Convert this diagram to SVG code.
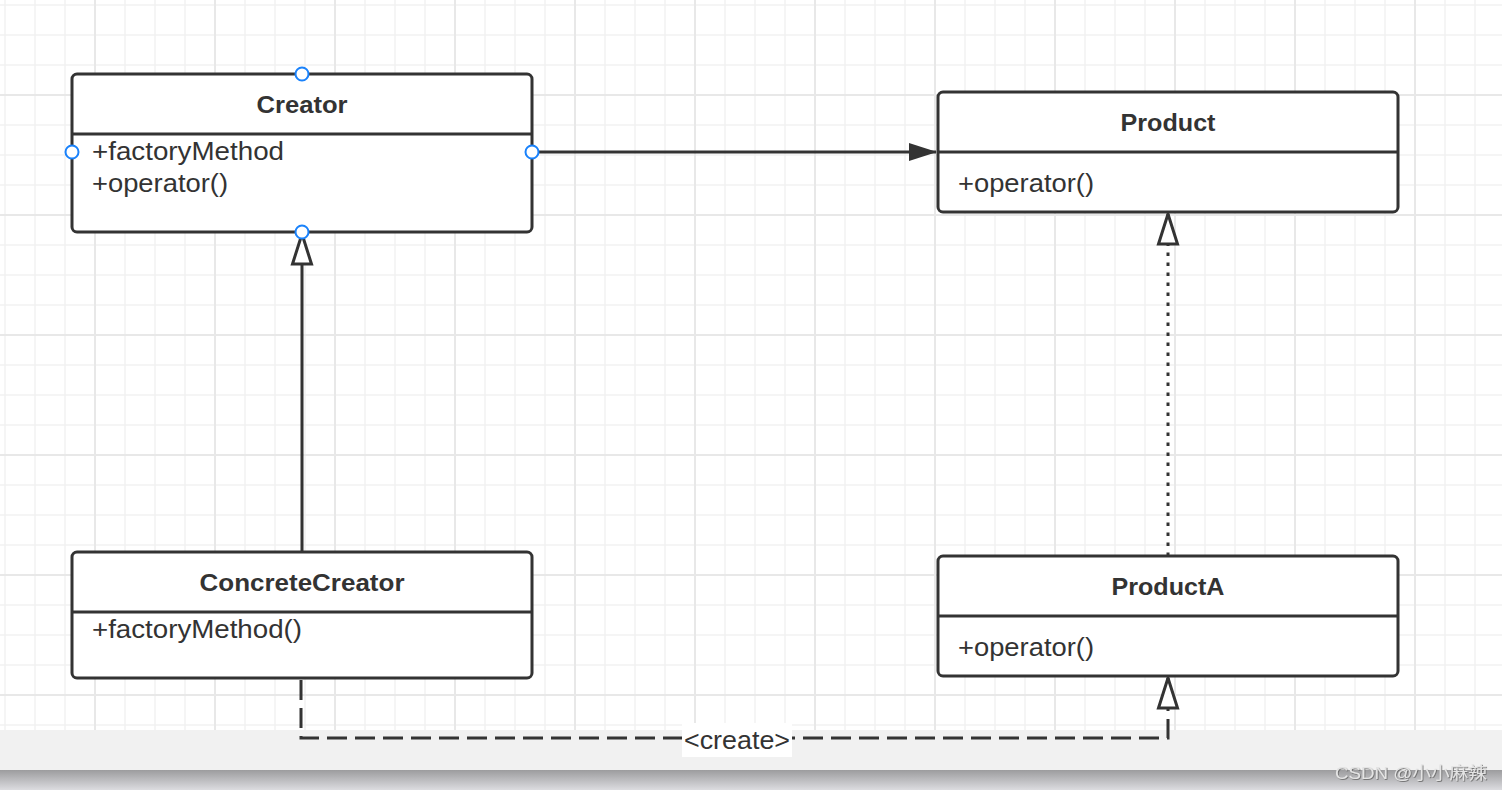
<svg xmlns="http://www.w3.org/2000/svg" width="1502" height="790" viewBox="0 0 1502 790">
  <defs>
    <pattern id="grid" patternUnits="userSpaceOnUse" x="-10" y="-10" width="120" height="120">
      <path d="M15 0V120M45 0V120M75 0V120M0 15H120M0 45H120M0 75H120" stroke="#f2f2f2" stroke-width="1.5" fill="none"/>
      <path d="M105 0V120M0 105H120" stroke="#e8e8e8" stroke-width="2" fill="none"/>
    </pattern>
    <linearGradient id="bar" x1="0" y1="0" x2="0" y2="1">
      <stop offset="0" stop-color="#9c9c9e"/>
      <stop offset="1" stop-color="#dcdce0"/>
    </linearGradient>
    <filter id="emb" x="-5%" y="-20%" width="110%" height="140%">
      <feDropShadow dx="0.8" dy="0.8" stdDeviation="0.3" flood-color="#666"/>
    </filter>
    <marker id="filled" viewBox="0 0 28 18" refX="27" refY="9" markerWidth="28" markerHeight="18" markerUnits="userSpaceOnUse" orient="auto">
      <path d="M0 0L28 9L0 18Z" fill="#333"/>
    </marker>
    <marker id="hollow" viewBox="0 0 34 24" refX="32" refY="12" markerWidth="34" markerHeight="24" markerUnits="userSpaceOnUse" orient="auto">
      <path d="M2 2.5L32 12L2 21.5Z" fill="#fff" stroke="#333" stroke-width="3" stroke-linejoin="miter"/>
    </marker>
  </defs>
  <style>
    .box { fill: #fff; stroke: #333; stroke-width: 3; }
    .div { stroke: #333; stroke-width: 3; }
    .title { font-family: "Liberation Sans", Arial, sans-serif; font-weight: bold; font-size: 24px; fill: #333; text-anchor: middle; }
    .attr { font-family: "Liberation Sans", Arial, sans-serif; font-size: 25px; fill: #333; }
    .line { fill: none; stroke: #333; stroke-width: 3; }
    .handle { fill: #fff; stroke: #1a82fb; stroke-width: 2; }
  </style>

  <rect x="0" y="0" width="1502" height="730" fill="#fff"/>
  <rect x="0" y="0" width="1502" height="730" fill="url(#grid)"/>
  <rect x="0" y="730" width="1502" height="40" fill="#f1f1f1"/>
  <rect x="0" y="770" width="1502" height="20" fill="url(#bar)"/>

  <g id="connectors">
    <path class="line" d="M532 152H936" marker-end="url(#filled)"/>
    <path class="line" d="M302 552V234" marker-end="url(#hollow)"/>
    <path class="line" d="M1168 556V214" stroke-dasharray="3.5 6.5" marker-end="url(#hollow)"/>
    <path class="line" d="M301 680V738H1168V678" stroke-dasharray="20 8" marker-end="url(#hollow)"/>
    <rect x="682" y="723" width="110" height="34" fill="#fff"/>
    <text class="attr" x="737" y="749" text-anchor="middle" font-size="23" textLength="106" lengthAdjust="spacingAndGlyphs">&lt;create&gt;</text>
  </g>

  <g id="creator">
    <rect class="box" x="72" y="74" width="460" height="158" rx="5"/>
    <line class="div" x1="72" y1="134" x2="532" y2="134"/>
    <text class="title" x="302" y="113" textLength="91" lengthAdjust="spacingAndGlyphs">Creator</text>
    <text class="attr" x="92" y="160" textLength="192" lengthAdjust="spacingAndGlyphs">+factoryMethod</text>
    <text class="attr" x="92" y="192" textLength="136" lengthAdjust="spacingAndGlyphs">+operator()</text>
    <circle class="handle" cx="302" cy="74" r="6.5"/>
    <circle class="handle" cx="72" cy="152" r="6.5"/>
    <circle class="handle" cx="532" cy="152" r="6.5"/>
    <circle class="handle" cx="302" cy="232" r="6.5"/>
  </g>

  <g id="product">
    <rect class="box" x="938" y="92" width="460" height="120" rx="5"/>
    <line class="div" x1="938" y1="152" x2="1398" y2="152"/>
    <text class="title" x="1168" y="131" textLength="95" lengthAdjust="spacingAndGlyphs">Product</text>
    <text class="attr" x="958" y="192" textLength="136" lengthAdjust="spacingAndGlyphs">+operator()</text>
  </g>

  <g id="concretecreator">
    <rect class="box" x="72" y="552" width="460" height="126" rx="5"/>
    <line class="div" x1="72" y1="612" x2="532" y2="612"/>
    <text class="title" x="302" y="591" textLength="205" lengthAdjust="spacingAndGlyphs">ConcreteCreator</text>
    <text class="attr" x="92" y="638" textLength="210" lengthAdjust="spacingAndGlyphs">+factoryMethod()</text>
  </g>

  <g id="producta">
    <rect class="box" x="938" y="556" width="460" height="120" rx="5"/>
    <line class="div" x1="938" y1="616" x2="1398" y2="616"/>
    <text class="title" x="1168" y="595" textLength="113" lengthAdjust="spacingAndGlyphs">ProductA</text>
    <text class="attr" x="958" y="656" textLength="136" lengthAdjust="spacingAndGlyphs">+operator()</text>
  </g>

  <text x="1335" y="779" font-family="'Liberation Sans', 'Noto Sans CJK SC', sans-serif" font-size="17" fill="#e4e4e4" filter="url(#emb)" textLength="152" lengthAdjust="spacingAndGlyphs">CSDN @小小麻辣</text>
</svg>
